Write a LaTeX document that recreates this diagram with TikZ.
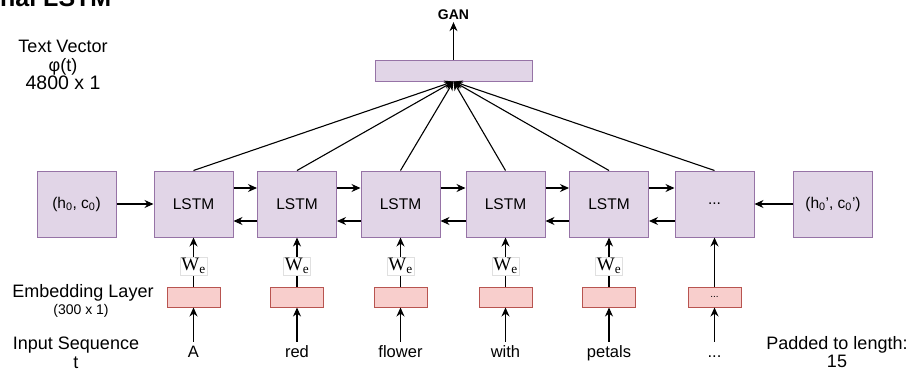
\documentclass[tikz,border=0pt]{standalone}
\usepackage{fontspec}
\setmainfont{Liberation Sans}
\newfontfamily\serifw{Liberation Serif}
\usetikzlibrary{arrows.meta}
\definecolor{pfill}{HTML}{E1D5E7}
\definecolor{pdraw}{HTML}{9673A6}
\definecolor{rfill}{HTML}{F8CECC}
\definecolor{rdraw}{HTML}{B85450}
\begin{document}
\begin{tikzpicture}[x=1pt,y=-1pt,
  cell/.style={draw=pdraw,fill=pfill,line width=1pt,minimum width=79pt,minimum height=66pt,inner sep=0pt,font=\fontsize{15.5}{17}\selectfont},
  embbox/.style={draw=rdraw,fill=rfill,line width=1pt,minimum width=53pt,minimum height=20pt,inner sep=0pt},
  wlab/.style={draw=black!12,fill=white,inner sep=1.5pt,font=\serifw\fontsize{19}{20}\selectfont},
  word/.style={font=\fontsize{16.5}{18}\selectfont,text height=13pt,text depth=3pt,inner sep=2pt,anchor=base},
  lbl/.style={font=\fontsize{18}{18.5}\selectfont,align=center,inner sep=0pt},
  arr/.style={-{Stealth[length=9pt,width=8pt]},line width=1.1pt},
  ln/.style={line width=1.1pt},
]
\useasboundingbox (0,0) rectangle (911,373);
\clip (0,0) rectangle (911,373);

% title fragment (cut off at the top edge, as in the reference)
\node[font=\bfseries\fontsize{25}{25}\selectfont,anchor=base west,inner sep=0pt] (title) at (0,6) {nal LSTM};

% text vector
\node[draw=pdraw,fill=pfill,line width=1pt,minimum width=157pt,minimum height=21pt,inner sep=0pt] (tv) at (453.5,70.5) {};
\node[font=\bfseries\fontsize{14}{16}\selectfont,inner sep=2pt] (gan) at (453.5,15) {GAN};
\draw[arr] (tv.north) -- (gan.south);

\node[lbl] (tvl) at (63,65) {Text Vector\\ φ(t)\\ {\fontsize{19.5}{18.5}\selectfont 4800 x 1}};

% initial states
\node[cell] (h0) at (76.5,204) {(h\textsubscript{0}, c\textsubscript{0})};
\node[cell] (h0p) at (833,204) {(h\textsubscript{0}', c\textsubscript{0}')};

% LSTM columns
\foreach \i/\x/\w in {1/193.5/A, 2/297/red, 3/400.5/flower, 4/505.5/with, 5/609/petals} {
  \node[cell] (L\i) at (\x,204) {LSTM};
  \node[embbox] (E\i) at (\x,297) {};
  \node[word] (w\i) at (\x,357) {\w};
  \draw[ln] (E\i.north) -- (\x,266);
  \node[wlab] (We\i) at (\x,266) {W\textsubscript{e}};
  \draw[arr] (We\i.north) -- (L\i.south);
  \draw[arr] (w\i.north) -- (E\i.south);
}
\node[cell] (L6) at (714.5,204) {...};
\node[embbox,font=\fontsize{10}{10}\selectfont] (E6) at (714.5,297) {...};
\node[word] (w6) at (714.5,357) {...};
\draw[arr] (E6.north) -- (L6.south);
\draw[arr] (w6.north) -- (E6.south);

% horizontal connections
\draw[arr] (h0.east) -- (L1.west);
\draw[arr] (h0p.west) -- (L6.east);
\foreach \i/\j in {1/2,2/3,3/4,4/5,5/6} {
  \draw[arr] ([yshift=16pt]L\i.east) -- ([yshift=16pt]L\j.west);
  \draw[arr] ([yshift=-17pt]L\j.west) -- ([yshift=-17pt]L\i.east);
}

% to text vector
\foreach \i in {1,...,6} {
  \draw[arr] (L\i.north) -- (tv.south);
}

% side labels
\node[lbl] (embl) at (83,293) {Embedding Layer};
\node[lbl,font=\fontsize{14}{15}\selectfont] (embs) at (81,311) {(300 x 1)};
\node[lbl] (inl) at (76,353) {Input Sequence\\ t};
\node[lbl] (pad) at (837,352) {Padded to length:\\ 15};
\end{tikzpicture}
\end{document}
